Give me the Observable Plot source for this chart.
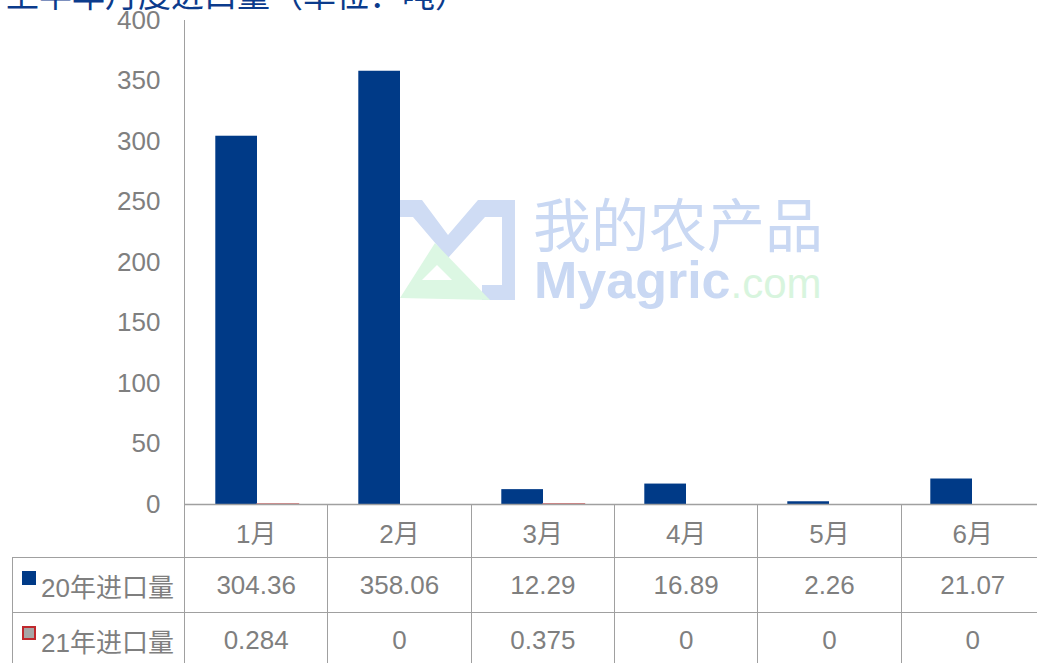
<!DOCTYPE html>
<html><head><meta charset="utf-8">
<script src="https://cdn.jsdelivr.net/npm/d3@7"></script>
<script src="https://cdn.jsdelivr.net/npm/@observablehq/plot@0.6"></script>
<style>
html,body{margin:0;padding:0;overflow:hidden;background:#fff;width:1037px;height:663px;}
body{position:relative;font-family:"Liberation Sans","Noto Sans CJK SC",sans-serif;}
#title{position:absolute;left:6px;top:-27px;font-size:33px;color:#0b3b8c;white-space:nowrap;font-family:"Noto Sans CJK SC",sans-serif;line-height:40px;}
#chart{position:absolute;left:0;top:0;}
.wm{position:absolute;white-space:nowrap;line-height:1;}
#wm1{left:533px;top:193px;font-size:58px;line-height:58px;height:58px;color:#c9d8f3;font-family:"Noto Sans CJK SC",sans-serif;}
#wm2{left:534px;top:254px;font-size:52px;line-height:52px;color:#c9d8f3;font-weight:bold;font-family:"Liberation Sans",sans-serif;}
#wm2 span{color:#d8f5de;font-weight:normal;font-size:42px;}
#logo{position:absolute;left:395px;top:190px;}
table{position:absolute;left:12px;top:504px;width:1032px;border-collapse:collapse;table-layout:fixed;}
td{border:1px solid #a0a0a0;color:#7f7f7f;font-size:26px;text-align:center;padding:0;position:relative;white-space:nowrap;}
tr.h td{height:52px;}
tr.r1 td{height:54px;}
tr.r2 td{height:54px;}
td.blank{border-top:none;border-left:none;}
td.lab{text-align:left;padding-left:28px;}
.mk{position:absolute;left:9px;top:13px;width:14px;height:14px;box-sizing:border-box;}
</style></head>
<body>
<div id="title">上半年月度进口量（单位：吨）</div>
<div id="chart"></div>
<svg id="logo" width="130" height="120" viewBox="0 0 130 120">
  <polygon points="5,10 27,10 53,45 83,10 120,10 120,110 87,110 87,95 107,95 107,27 90,27 53,68 18,27 5,27" fill="#cfdcf4"/>
  <polygon points="5,108 40,53 95,110" fill="#dcf7e3"/>
  <polygon points="27,90 42,75 57,90" fill="#fff"/>
</svg>
<div class="wm" id="wm1">我的农产品</div>
<div class="wm" id="wm2">Myagric<span>.com</span></div>
<script>
const months = ["1月","2月","3月","4月","5月","6月"];
const seriesNames = ["20年进口量","21年进口量"];
const imports2020 = [304.36, 358.06, 12.29, 16.89, 2.26, 21.07];
const imports2021 = [0.284, 0, 0.375, 0, 0, 0];
const labels2020 = ["304.36","358.06","12.29","16.89","2.26","21.07"];
const labels2021 = ["0.284","0","0.375","0","0","0"];
const yTicks = [0,50,100,150,200,250,300,350,400];
const colors = {a:"#003a87", b:"#a6a6a6", bStroke:"#c0282d"};

const rows = months.map((m,i)=>({month:m, a:imports2020[i], b:imports2021[i]}));

const plot = Plot.plot({
  width:1037, height:520,
  marginTop:20, marginBottom:16, marginLeft:184, marginRight:0,
  x:{domain:months, range:[184,1044], padding:0, axis:null},
  y:{domain:[0,400], range:[504,20], axis:null},
  style:{fontFamily:'"Liberation Sans","Noto Sans CJK SC",sans-serif', background:"transparent"},
  marks:[
    Plot.axisY({ticks:yTicks, tickSize:0, tickPadding:24, fontSize:26, color:"#7f7f7f", tickFormat:d=>String(d)}),
    Plot.barY(rows, {x:"month", y:"a", fill:colors.a, insetLeft:30.3, insetRight:71}),
    Plot.barY(rows, {x:"month", y:"b", filter:d=>d.b>0, fill:colors.b, stroke:"#d77a7a", insetLeft:72, insetRight:29.3}),
    Plot.ruleY([0], {stroke:"#a0a0a0", strokeWidth:1.5}),
    Plot.ruleY([400], {stroke:"none"}),
    Plot.frame({anchor:"left", stroke:"#a0a0a0"})
  ]
});
document.getElementById("chart").appendChild(plot);

// data table below the chart
const table = document.createElement("table");
const colg = document.createElement("colgroup");
[172, ...months.map(()=>143.33)].forEach(w=>{const c=document.createElement("col");c.style.width=w+"px";colg.appendChild(c);});
table.appendChild(colg);
const hr = document.createElement("tr"); hr.className="h";
const blank = document.createElement("td"); blank.className="blank"; hr.appendChild(blank);
months.forEach(m=>{const td=document.createElement("td");td.textContent=m;hr.appendChild(td);});
table.appendChild(hr);
[[seriesNames[0], labels2020, "r1", colors.a, colors.a],[seriesNames[1], labels2021, "r2", colors.b, colors.bStroke]].forEach(([name, vals, cls, fill, stroke])=>{
  const tr=document.createElement("tr"); tr.className=cls;
  const lab=document.createElement("td"); lab.className="lab";
  const mk=document.createElement("span"); mk.className="mk"; mk.style.background=fill; mk.style.border="2px solid "+stroke;
  lab.appendChild(mk); lab.appendChild(document.createTextNode(name));
  tr.appendChild(lab);
  vals.forEach(v=>{const td=document.createElement("td");td.textContent=v;tr.appendChild(td);});
  table.appendChild(tr);
});
document.body.appendChild(table);
</script>
</body></html>
